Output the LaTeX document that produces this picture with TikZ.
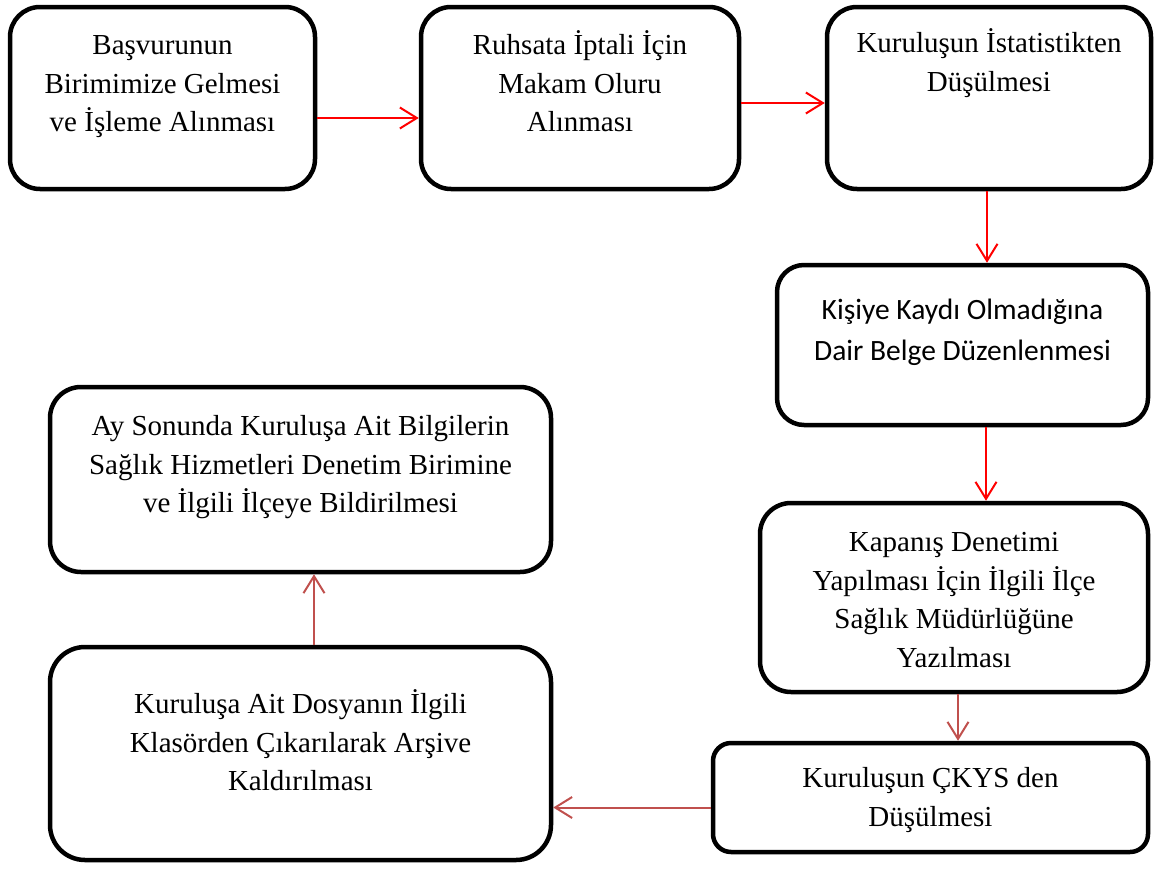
\documentclass[tikz,border=0pt]{standalone}
\usepackage{fontspec}
\setmainfont{Liberation Serif}
\newfontfamily\calibrifont{Carlito}
\usetikzlibrary{arrows.meta, calc}
\definecolor{FlowRed}{RGB}{255, 0, 0}
\definecolor{SoftRed}{RGB}{192, 80, 77}
% width, height, top gap, text
\newcommand{\boxtext}[4]{\parbox[c][#2][t]{#1}{\centering\vspace*{#3}\strut #4}}

\begin{document}
\begin{tikzpicture}[x=1pt, y=-1pt,
    stepbox/.style={draw, line width=4.5pt, inner sep=0pt, font=\fontsize{29}{38.5}\selectfont},
    flow/.style={FlowRed, line width=2pt, -{Straight Barb[length=17pt, width=21pt]}},
    softflow/.style={flow, SoftRed}]
    \useasboundingbox (0,0) rectangle (1156,870);

    % Top row
    \node[stepbox, rounded corners=30pt] (basvuru) at (162.5,98)
      {\boxtext{305pt}{182pt}{21pt}{Başvurunun\\ Birimimize Gelmesi\\ ve İşleme Alınması}};
    \node[stepbox, rounded corners=30pt] (makam) at (580,98)
      {\boxtext{318pt}{182pt}{21pt}{Ruhsata İptali İçin\\ Makam Oluru\\ Alınması}};
    \node[stepbox, rounded corners=30pt] (istatistik) at (989,98)
      {\boxtext{324pt}{182pt}{19pt}{Kuruluşun İstatistikten\\ Düşülmesi}};

    % Right column
    \node[stepbox, rounded corners=27pt, font=\calibrifont\fontsize{29.5}{41.7}\selectfont] (kayit) at (962.5,345)
      {\boxtext{371pt}{160pt}{25pt}{Kişiye Kaydı Olmadığına\\ Dair Belge Düzenlenmesi}};
    \node[stepbox, rounded corners=31pt] (kapanis) at (954,597.5)
      {\boxtext{388pt}{189pt}{22pt}{Kapanış Denetimi\\ Yapılması İçin İlgili İlçe\\ Sağlık Müdürlüğüne\\ Yazılması}};
    \node[stepbox, rounded corners=18pt] (ckys) at (930.5,797.5)
      {\boxtext{435pt}{109pt}{18pt}{Kuruluşun ÇKYS den\\ Düşülmesi}};

    % Left column
    \node[stepbox, rounded corners=35pt] (dosya) at (300.5,753.5)
      {\boxtext{501pt}{213pt}{40pt}{Kuruluşa Ait Dosyanın İlgili\\ Klasörden Çıkarılarak Arşive\\ Kaldırılması}};
    \node[stepbox, rounded corners=31pt] (bildirim) at (300.5,479.5)
      {\boxtext{501pt}{185pt}{22pt}{Ay Sonunda Kuruluşa Ait Bilgilerin\\ Sağlık Hizmetleri Denetim Birimine\\ ve İlgili İlçeye Bildirilmesi}};

    % Arrows
    \draw[flow] ([yshift=-20pt]basvuru.east) -- ([yshift=-20pt]basvuru.east -| makam.west);
    \draw[flow] ([yshift=-5pt]makam.east) -- ([yshift=-5pt]makam.east -| istatistik.west);
    \draw[flow] ([xshift=-2pt]istatistik.south) -- ([xshift=-2pt]istatistik.south |- kayit.north);
    \draw[flow] ([xshift=23.5pt]kayit.south) -- ([xshift=23.5pt]kayit.south |- kapanis.north);
    \draw[softflow] ([xshift=4pt]kapanis.south) -- ([xshift=4pt]kapanis.south |- ckys.north);
    \draw[softflow] ([yshift=-10pt]ckys.west) -- ([yshift=-10pt]ckys.west -| dosya.east);
    \draw[softflow] ([xshift=13.5pt]dosya.north) -- ([xshift=13.5pt]dosya.north |- bildirim.south);
\end{tikzpicture}
\end{document}
